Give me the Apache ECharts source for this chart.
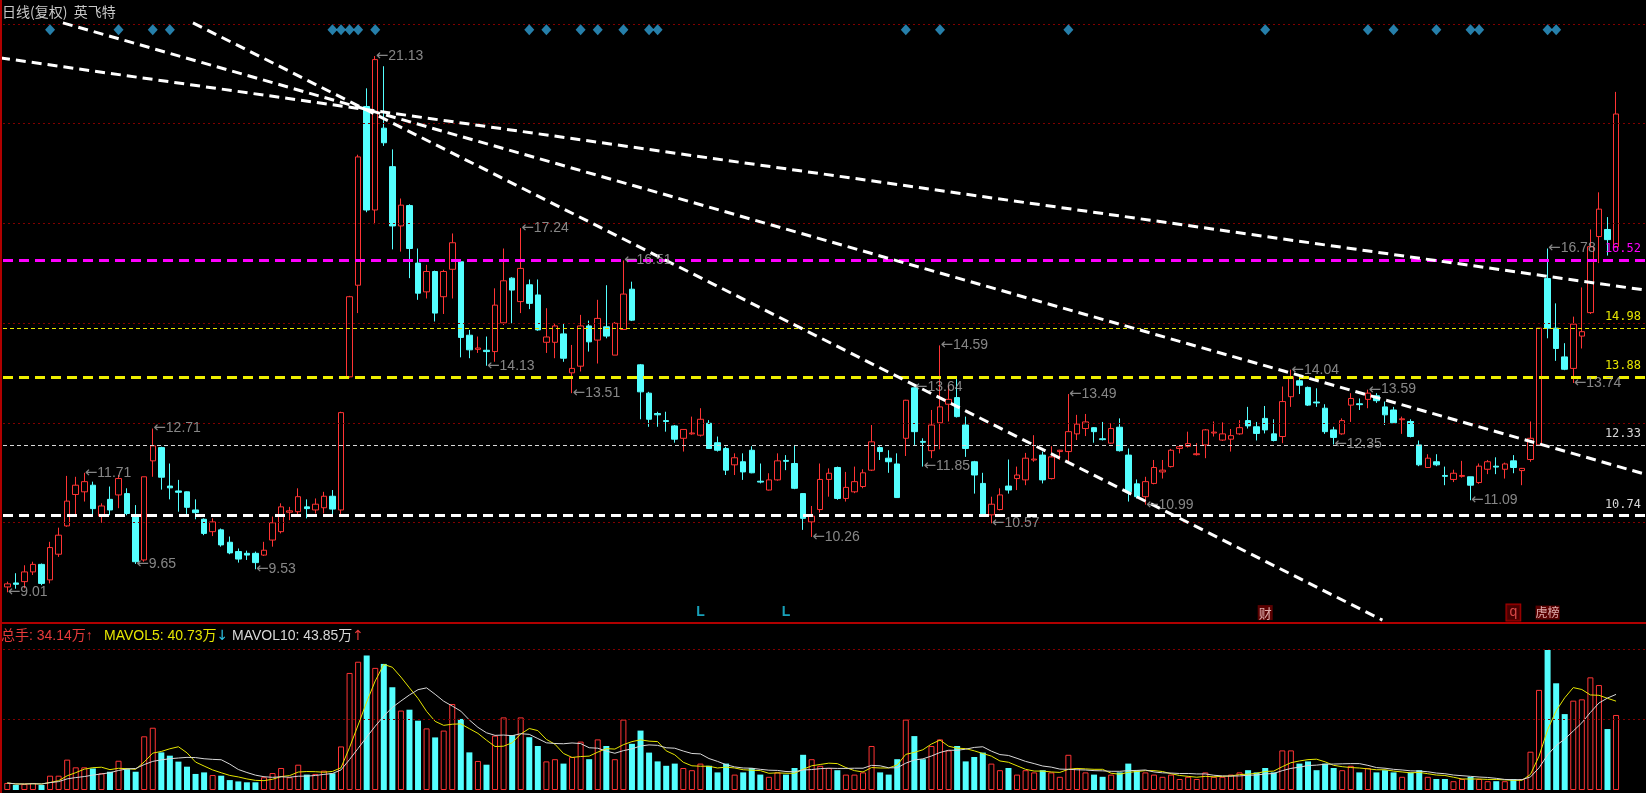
<!DOCTYPE html>
<html><head><meta charset="utf-8">
<script src="https://cdn.jsdelivr.net/npm/echarts/dist/echarts.min.js"></script>
<style>html,body{margin:0;padding:0;background:#000;overflow:hidden}#c{width:1646px;height:793px}</style>
</head><body><div id="c"></div>
<script>
// ---------------- data ----------------
const openP = [
9.13,9.22,9.25,9.47,9.64,9.29,9.87,10.51,11.22,11.28,
11.43,10.73,11.11,11.21,11.24,10.72,9.74,11.98,12.28,11.41,
11.30,11.28,10.87,10.66,10.38,10.42,10.14,9.93,9.89,9.89,
9.85,10.19,10.38,10.82,10.83,10.94,10.87,10.92,11.18,10.87,
13.88,15.95,19.99,17.65,19.50,18.63,17.29,17.75,16.45,15.80,
16.26,15.69,16.31,16.48,14.82,14.50,14.48,14.45,15.10,16.11,
15.58,15.96,15.73,14.66,14.66,14.85,13.97,14.12,15.03,14.71,
15.01,14.37,14.95,15.86,14.15,13.51,13.05,12.89,12.77,12.49,
12.59,12.56,12.83,12.39,12.26,11.89,11.96,12.22,11.52,11.32,
11.55,11.99,11.92,11.24,10.60,10.88,11.56,11.83,11.13,11.28,
11.40,11.77,12.28,12.04,11.91,12.49,13.63,12.42,12.21,12.84,
13.26,13.41,12.79,11.96,11.47,10.76,10.88,11.41,11.58,11.55,
12.00,12.11,11.58,12.19,12.19,12.59,12.71,12.73,12.48,12.38,
12.74,12.11,11.46,11.17,11.47,11.73,11.85,12.26,12.31,12.12,
12.34,12.61,12.45,12.47,12.59,12.89,12.75,12.94,12.59,12.53,
13.43,13.79,13.64,13.31,13.17,12.68,12.59,13.24,13.27,13.37,
13.45,13.20,13.13,12.91,12.87,12.34,11.83,11.96,11.65,11.56,
11.63,11.62,11.49,11.79,11.86,11.79,11.98,11.76,12.01,12.34,
16.10,14.98,14.33,14.07,14.80,15.33,17.05,17.21,16.82];
const closeP = [
9.20,9.19,9.47,9.64,9.21,10.02,10.30,11.07,11.43,11.51,
10.90,10.96,10.87,11.58,10.79,9.70,11.62,12.32,11.61,11.37,
11.27,10.93,10.81,10.34,10.60,10.08,9.90,9.76,9.85,9.68,
9.96,10.58,10.94,10.85,11.17,10.90,11.00,11.18,10.89,13.07,
15.69,18.85,17.65,21.05,19.17,17.29,17.76,16.78,15.77,16.26,
15.32,16.26,16.91,14.77,14.49,14.53,14.45,15.50,16.05,15.84,
16.33,15.54,14.94,14.78,15.03,14.30,14.07,15.03,14.67,15.20,
14.80,15.09,15.75,15.16,13.54,12.92,13.02,12.87,12.47,12.69,
12.61,12.92,12.26,12.22,11.77,12.05,11.73,11.71,11.50,11.55,
11.98,11.97,11.36,10.68,10.73,11.56,11.70,11.13,11.38,11.51,
11.71,12.41,12.19,11.96,11.15,13.35,12.64,12.40,12.79,13.20,
13.37,12.98,12.26,11.66,10.73,11.00,11.21,11.32,11.66,12.04,
12.02,11.55,12.07,12.22,12.64,12.81,12.86,12.64,12.46,12.71,
12.21,11.28,11.17,11.51,11.83,11.77,12.22,12.30,12.37,12.14,
12.68,12.63,12.59,12.55,12.73,12.77,12.60,12.68,12.44,13.32,
13.88,13.69,13.24,13.29,12.64,12.51,12.89,13.39,13.25,13.51,
13.34,13.02,12.84,12.93,12.53,11.89,12.04,11.89,11.63,11.70,
11.65,11.43,11.86,11.96,11.84,11.91,11.83,11.81,12.49,14.98,
14.98,14.52,14.05,15.07,14.90,16.82,17.67,16.98,19.82];
const lowP = [
9.01,9.09,9.10,9.40,9.17,9.21,9.81,10.49,10.75,11.06,
10.75,10.58,10.75,10.91,10.75,9.65,9.70,11.62,11.33,11.11,
10.83,10.72,10.66,10.30,10.28,10.04,9.87,9.68,9.74,9.53,
9.83,10.04,10.34,10.64,10.75,10.68,10.79,10.79,10.75,10.75,
13.86,15.32,17.60,17.33,19.10,16.76,16.71,16.11,15.62,15.65,
15.13,15.30,15.65,14.32,14.30,14.42,14.13,14.22,15.05,15.09,
15.32,15.41,14.92,14.42,14.30,14.22,13.51,14.00,14.45,14.18,
14.75,14.37,14.94,15.14,12.92,12.75,12.75,12.64,12.39,12.19,
12.57,12.53,12.25,12.19,11.66,11.66,11.55,11.70,11.47,11.31,
11.53,11.77,11.34,10.42,10.26,10.81,11.17,11.10,11.06,11.25,
11.36,11.75,12.00,11.71,11.14,12.09,12.34,11.85,12.04,12.24,
12.87,12.96,12.07,11.24,10.72,10.57,10.86,11.24,11.32,11.43,
11.96,11.47,11.56,12.00,11.96,12.45,12.54,12.39,12.44,12.37,
12.19,11.06,11.13,10.99,11.45,11.58,11.83,12.15,12.28,12.10,
12.04,12.53,12.43,12.19,12.57,12.71,12.44,12.60,12.42,12.38,
13.20,13.49,13.22,13.20,12.59,12.35,12.57,12.86,13.13,13.17,
13.29,12.79,12.82,12.59,12.51,11.86,11.82,11.86,11.43,11.50,
11.60,11.09,11.46,11.68,11.68,11.58,11.70,11.43,11.96,12.33,
14.75,14.24,14.03,13.74,14.52,15.30,16.45,16.62,16.80];
const highP = [
9.25,9.44,9.62,9.70,9.66,10.15,10.47,11.64,11.62,11.71,
11.51,11.02,11.40,11.66,11.36,10.98,11.62,12.71,12.30,11.92,
11.55,11.29,11.11,10.68,10.68,10.45,10.27,10.00,9.95,9.93,
10.15,10.72,11.02,10.94,11.36,11.11,11.13,11.28,11.32,13.09,
15.71,18.90,20.40,21.13,20.90,19.02,17.91,17.78,16.78,16.41,
16.28,16.30,17.12,16.50,14.94,14.79,14.79,15.88,16.78,16.13,
17.24,16.08,16.08,15.43,15.09,15.09,14.60,15.28,15.15,15.62,
15.95,15.12,16.51,16.03,14.17,13.54,13.09,13.09,12.79,12.70,
12.98,13.17,12.90,12.53,12.30,12.15,12.15,12.31,11.92,11.70,
12.15,12.11,12.34,11.25,10.96,11.92,11.81,11.85,11.73,11.85,
11.79,12.79,12.31,12.22,12.15,13.36,13.64,12.49,13.13,14.59,
13.69,13.88,12.98,11.98,11.71,11.17,11.36,12.01,11.85,12.16,
12.56,12.19,12.31,12.23,13.49,13.02,13.04,12.74,12.86,12.83,
12.94,12.26,11.56,11.62,12.00,12.00,12.25,12.34,12.64,12.38,
12.70,12.87,12.85,12.70,12.90,13.20,12.86,13.22,12.92,13.66,
14.04,13.88,13.66,13.62,13.26,12.75,12.94,13.51,13.39,13.59,
13.51,13.32,13.20,12.98,12.92,12.44,12.13,12.13,11.85,11.78,
11.98,11.62,11.92,12.00,12.06,11.94,12.11,11.82,12.87,14.98,
16.78,15.54,14.64,15.24,15.90,17.21,18.05,17.49,20.32];
// volume in 万手
const volume = [
3.2,2.3,2.7,3.2,2.3,6.5,6.5,13.8,10.3,10.3,
9.8,7.6,8.3,13.3,9.5,8.3,24.4,28.3,17.1,15.6,
12.9,10.6,7.3,8.0,6.8,6.5,4.5,3.9,3.5,3.5,
5.8,7.7,10.0,5.8,11.5,7.0,7.3,8.8,7.6,19.8,
53.2,58.3,61.1,55.5,57.3,46.7,36.1,36.5,31.5,28.0,
23.9,27.0,39.1,32.3,17.1,13.2,11.5,24.7,33,25,
33,24,20,13,14,12,15,22,14,23,
20,14,32,21,27,17,13,11,12,10,
9,12,11,8,12,7,8,10,7,6,
8,7,10,16,14,11,10,9,7,7,
8,20,8,7,14,32,24.5,14,20,23,
18,20,13,15,17,12,9,10,7,9,
8,9,8,6,16,10,8,7,6,7,
8,12,9,8,7,6,7,5,6,5,
8,6,6,7,8,9,8,10,8,18,
18,12,13,9,12,10,9,11,8,10,
8,9,8,6,8,9,6,5,5,4,
5,6,5,4,4,4,5,5,17.4,45.5,
63.6,48.5,34.5,40.6,41.2,51.2,47.7,27.7,34.1];
const padDays = 3;
const dayLabels = Array.from({length: openP.length + padDays}, (_, i) => 'D' + (i + 1));

// annotations
const levelValues = [16.52, 14.98, 13.88, 12.33, 10.74];
const priceGridLevels = [10.59, 12.84, 15.09, 17.34, 19.60, 21.85];
const volGridLevels = [32.3, 64.1];
const peakIdx = [0,9,15,17,29,43,56,60,66,72,94,106,107,109,115,124,133,150,155,159,171,180,183];
const peakVal = [9.01,11.71,9.65,12.71,9.53,21.13,14.13,17.24,13.51,16.51,10.26,13.64,11.85,14.59,10.57,13.49,10.99,14.04,12.35,13.59,11.09,16.78,13.74];
const signalDays = [5,13,17,19,38,39,40,41,43,61,63,67,69,72,75,76,105,109,124,147,159,162,167,171,172,180,181];
const trendA = [[-0.85, 21.09], [191.4, 15.84]];
const trendB = [[6.5, 21.88], [191.4, 11.68]];
const trendC = [[21.7, 21.88], [160.7, 8.38]];
const eventIdx = [81, 91, 147, 176, 180];
const eventText = ['L', 'L', '财', 'q', '虎榜'];
const volText = ['34.14', '40.73', '43.85'];
const titleText = '日线(复权)  英飞特';

// ---------------- build ----------------
const RED = '#ff3434', CYAN = '#54ffff';
const candles = openP.map((o, i) => [o, closeP[i], lowP[i], highP[i]]);
const volBars = volume.map((v, i) => {
  const up = closeP[i] >= openP[i];
  return { value: v, itemStyle: up ? { color: 'rgba(0,0,0,0)', borderColor: RED, borderWidth: 1 } : { color: CYAN, borderColor: CYAN, borderWidth: 0 } };
});
function ma(n) {
  return volume.map((v, i) => {
    const s = Math.max(0, i - n + 1); let sum = 0;
    for (let k = s; k <= i; k++) sum += volume[k];
    return +(sum / (i - s + 1)).toFixed(2);
  });
}
const thick = (c) => ({ color: c, width: 3, type: [10, 6] });
const thin = (c) => ({ color: c, width: 1, type: [4, 3] });
const levelStyles = [thick('#ff00ff'), thin('#e6e600'), thick('#f0f000'), thin('#d8d8d8'), thick('#ffffff')];
const levelColors = ['#ff00ff', '#e6e600', '#e6e600', '#d8d8d8', '#d8d8d8'];

const evStyle = {
  'L': { color: '#1ec8e6', fontSize: 14, fontWeight: 'bold', fontFamily: 'Liberation Sans' },
  '财': { color: '#ffd6d6', backgroundColor: '#700000', fontSize: 13, padding: [1, 1], fontFamily: 'Noto Sans CJK SC' },
  'q': { color: '#ff5a5a', backgroundColor: '#5a0000', borderColor: '#d00000', borderWidth: 1, fontSize: 14, padding: [0, 3, 2, 3], fontFamily: 'Liberation Sans' },
  '虎榜': { color: '#ffd6d6', backgroundColor: '#700000', fontSize: 12, padding: [1, 0], fontFamily: 'Noto Sans CJK SC' }
};
const FF = "'Liberation Sans','Noto Sans CJK SC'";
const rs = (c, f) => ({ color: c, fontSize: 14, fontWeight: 'normal', fontFamily: f || FF });

const chart = echarts.init(document.getElementById('c'), null, { renderer: 'canvas' });
const NC = dayLabels.length;
const option = {
  backgroundColor: '#000',
  animation: false,
  title: [
    { text: titleText, left: 2, top: 5, padding: 0, textStyle: { color: '#c8c8c8', fontSize: 14, fontWeight: 'normal', fontFamily: 'Noto Sans CJK SC' } },
    { text: '{a|总手: ' + volText[0] + '万↑}', left: 1, top: 629, padding: 0, textStyle: { fontWeight: 'normal', rich: { a: rs('#e83a3a') } } },
    { text: '{a|MAVOL5: ' + volText[1] + '万}{b|↓}', left: 104, top: 629, padding: 0, textStyle: { fontWeight: 'normal', rich: { a: rs('#e6e600'), b: rs('#2ec4e6', 'DejaVu Sans') } } },
    { text: '{a|MAVOL10: ' + volText[2] + '万}{b|↑}', left: 232, top: 629, padding: 0, textStyle: { fontWeight: 'normal', rich: { a: rs('#d8d8d8'), b: rs('#e83a3a', 'DejaVu Sans') } } }
  ],
  grid: [
    { left: 3, top: 0, width: 1643.5, height: 623 },
    { left: 3, top: 623, width: 1643.5, height: 167 }
  ],
  xAxis: [
    { type: 'category', gridIndex: 0, data: dayLabels, show: false },
    { type: 'category', gridIndex: 1, data: dayLabels, show: false },
    { type: 'value', gridIndex: 0, min: -0.5, max: NC - 0.5, show: false }
  ],
  yAxis: [
    { type: 'value', gridIndex: 0, min: 8.315, max: 22.397, show: false },
    { type: 'value', gridIndex: 1, min: 0, max: 75.9, show: false }
  ],
  graphic: [
    { type: 'line', shape: { x1: 1, y1: 0, x2: 1, y2: 793 }, style: { stroke: '#b00000', lineWidth: 2 }, z: 10 },
    { type: 'line', shape: { x1: 0, y1: 623, x2: 1646, y2: 623 }, style: { stroke: '#b00000', lineWidth: 2 }, z: 10 }
  ],
  series: [
    { type: 'line', xAxisIndex: 0, yAxisIndex: 0, data: [], z: 1, silent: true,
      markLine: { silent: true, symbol: ['none', 'none'], label: { show: false }, lineStyle: { color: '#800000', width: 1, type: [2, 3] },
        data: priceGridLevels.map(v => ({ yAxis: v })) } },
    { type: 'line', xAxisIndex: 1, yAxisIndex: 1, data: [], z: 1, silent: true,
      markLine: { silent: true, symbol: ['none', 'none'], label: { show: false }, lineStyle: { color: '#800000', width: 1, type: [2, 3] },
        data: volGridLevels.map(v => ({ yAxis: v })) } },
    { type: 'candlestick', xAxisIndex: 0, yAxisIndex: 0, data: candles, barWidth: 6, z: 3, silent: true,
      itemStyle: { color: 'rgba(0,0,0,0)', color0: CYAN, borderColor: RED, borderColor0: CYAN, borderWidth: 1 },
      markLine: { silent: true, symbol: ['none', 'none'], precision: 2,
        data: levelValues.map((v, k) => ({ yAxis: v, lineStyle: levelStyles[k],
          label: { show: true, position: 'insideEndTop', distance: 5, formatter: v.toFixed(2), color: levelColors[k], fontSize: 12, fontFamily: 'DejaVu Sans Mono' } })) } },
    ...[trendA, trendB, trendC].map(t => ({ type: 'line', xAxisIndex: 2, yAxisIndex: 0, data: t, showSymbol: false, symbol: 'none', z: 6, silent: true, clip: true,
      lineStyle: { color: '#ffffff', width: 3, type: [10, 6] } })),
    { type: 'scatter', xAxisIndex: 2, yAxisIndex: 0, data: signalDays.map(i => [i, 21.725]), symbol: 'diamond', symbolSize: [10, 11], z: 5, silent: true,
      itemStyle: { color: '#2f9fd5' } },
    { type: 'scatter', xAxisIndex: 2, yAxisIndex: 0, data: peakIdx.map((i, k) => [i, peakVal[k]]), symbolSize: 1, z: 7, silent: true,
      itemStyle: { color: 'rgba(0,0,0,0)' },
      label: { show: true, position: 'right', distance: 0, formatter: p => '{a|←}{b|' + p.value[1].toFixed(2) + '}',
        rich: { a: { color: '#a8a8a8', fontSize: 15, fontFamily: 'DejaVu Sans' }, b: { color: '#a8a8a8', fontSize: 14, fontFamily: 'Liberation Sans' } } } },
    { type: 'scatter', xAxisIndex: 2, yAxisIndex: 0, data: eventIdx.map((i, k) => ({ value: [i, 8.55], label: Object.assign({ show: true, position: 'inside', formatter: eventText[k] }, evStyle[eventText[k]]) })),
      symbolSize: 1, z: 7, silent: true, itemStyle: { color: 'rgba(0,0,0,0)' } },
    { type: 'bar', xAxisIndex: 1, yAxisIndex: 1, data: volBars, barWidth: 6, z: 3, silent: true },
    { type: 'line', xAxisIndex: 1, yAxisIndex: 1, data: ma(5), showSymbol: false, symbol: 'none', z: 4, silent: true, lineStyle: { color: '#e6e600', width: 1 } },
    { type: 'line', xAxisIndex: 1, yAxisIndex: 1, data: ma(10), showSymbol: false, symbol: 'none', z: 4, silent: true, lineStyle: { color: '#d8d8d8', width: 1 } }
  ]
};
chart.setOption(option);
</script>
</body></html>
